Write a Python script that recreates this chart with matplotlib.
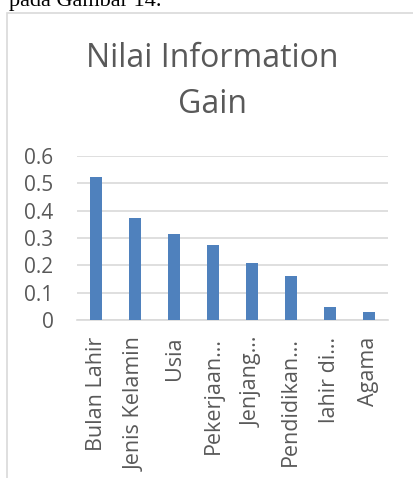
import matplotlib
matplotlib.use("Agg")
import matplotlib.pyplot as plt
from matplotlib.patches import Rectangle

# data
labels = ["Bulan Lahir", "Jenis Kelamin", "Usia", "Pekerjaan…", "Jenjang…",
          "Pendidikan…", "lahir di…", "Agama"]
gain = [0.524, 0.373, 0.315, 0.274, 0.207, 0.162, 0.048, 0.029]
yticks = [0, 0.1, 0.2, 0.3, 0.4, 0.5, 0.6]
ytick_labels = ["0", "0.1", "0.2", "0.3", "0.4", "0.5", "0.6"]

W, H = 414, 478
txt = "#595959"
plt.rcParams["font.family"] = ["Open Sans", "DejaVu Sans"]

fig = plt.figure(figsize=(W / 100, H / 100), dpi=100)

# piece of the document text above the chart, cut at the top
fig.text(162 / W, 1 - 6 / H, "pada Gambar 14.", ha="right", va="baseline",
         family="Liberation Serif", fontsize=16, color="black")

# chart frame (runs off the right and bottom edges)
fig.patches.append(Rectangle((7 / W, -0.1), 1.2, 1 - 13 / H + 0.1,
                             transform=fig.transFigure, fill=False,
                             edgecolor="#D9D9D9", linewidth=1.2))

ax = fig.add_axes([77 / W, 1 - 320 / H, (388 - 77) / W, (320 - 156) / H])
x = range(len(labels))
ax.bar(x, gain, width=0.31, color="#4F81BD", zorder=3)
ax.set_xlim(-0.5, len(labels) - 0.5)
ax.set_ylim(0, 0.6)
ax.set_yticks(yticks)
ax.set_yticklabels(ytick_labels)
ax.set_xticks(list(x))
ax.set_xticklabels(labels, rotation=90)
ax.grid(axis="y", color="#D9D9D9", linewidth=1.2, zorder=0)
for s in ["top", "right", "left"]:
    ax.spines[s].set_visible(False)
ax.spines["bottom"].set_color("#D9D9D9")
ax.spines["bottom"].set_linewidth(1.2)
ax.tick_params(axis="both", length=0, colors=txt)
ax.tick_params(axis="x", pad=12, labelsize=15.5)
ax.tick_params(axis="y", pad=17, labelsize=15)

tx = (88 + 337) / 2 / W
fig.text(tx, 1 - 67 / H, "Nilai Information", ha="center", va="baseline",
         fontsize=23, color=txt)
fig.text(tx, 1 - 113 / H, "Gain", ha="center", va="baseline",
         fontsize=23, color=txt)

fig.savefig("out.png", dpi=100)
